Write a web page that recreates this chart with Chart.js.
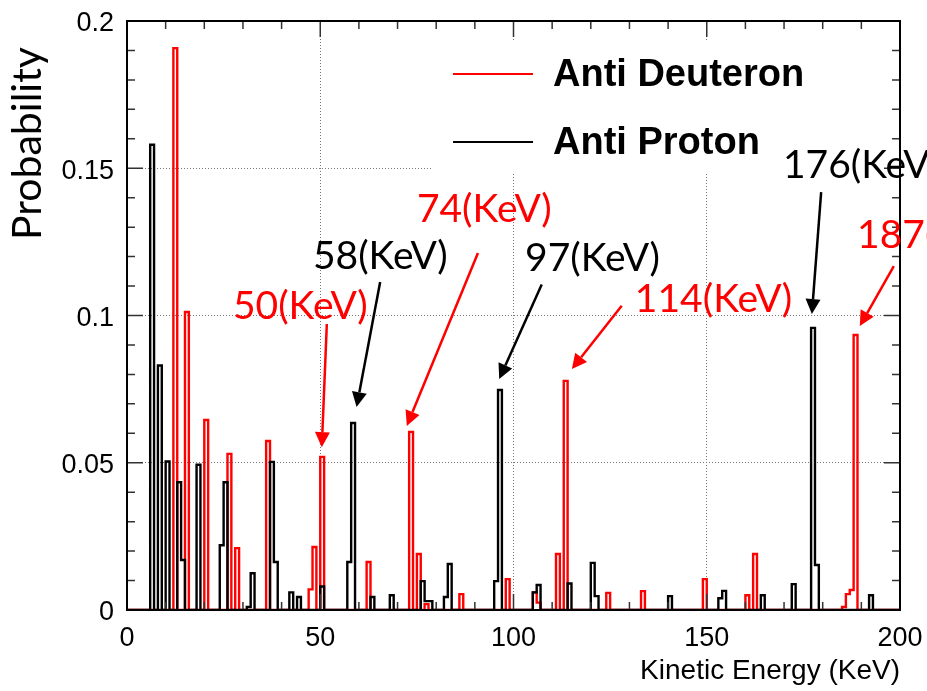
<!DOCTYPE html>
<html>
<head>
<meta charset="utf-8">
<title>Anti Deuteron / Anti Proton kinetic energy</title>
<script src="https://cdn.jsdelivr.net/npm/chart.js@4.4.0/dist/chart.umd.min.js"></script>
<style>
  html, body { margin: 0; padding: 0; background: #fff; }
  #wrap { width: 927px; height: 691px; }
</style>
</head>
<body>
<div id="wrap"><canvas id="spectrum" width="927" height="691"></canvas></div>
<script>
// histogram bins (lower edge, 1 KeV wide) and their probabilities
const deuteronBins = [12, 15, 20, 26, 28, 36, 47, 48, 50, 62, 73, 75, 77, 86, 98, 105, 106, 111, 113, 124, 133, 149, 160, 162, 185, 186, 187, 188];
const deuteronValues = [0.1908, 0.1012, 0.0645, 0.053, 0.021, 0.0574, 0.007, 0.0214, 0.052, 0.0163, 0.0605, 0.019, 0.002, 0.0054, 0.0105, 0.006, 0.0025, 0.019, 0.0778, 0.0058, 0.0064, 0.0105, 0.005, 0.019, 0.001, 0.0054, 0.0068, 0.0934];

const protonBins = [6, 8, 10, 13, 14, 18, 24, 25, 31, 32, 37, 38, 42, 44, 50, 57, 58, 63, 68, 76, 77, 78, 82, 83, 95, 96, 105, 106, 114, 120, 121, 140, 153, 154, 164, 172, 177, 178, 192];
const protonValues = [0.158, 0.083, 0.0504, 0.0434, 0.017, 0.0493, 0.022, 0.0434, 0.001, 0.0125, 0.0503, 0.0163, 0.006, 0.0044, 0.008, 0.0163, 0.0635, 0.0044, 0.005, 0.0098, 0.003, 0.003, 0.0044, 0.0156, 0.0098, 0.0747, 0.006, 0.0085, 0.009, 0.016, 0.0047, 0.0047, 0.004, 0.0065, 0.005, 0.0088, 0.0958, 0.0153, 0.005];

const xTickValues = [0, 50, 100, 150, 200];
const xTickLabels = ['0', '50', '100', '150', '200'];
const yTickValues = [0, 0.05, 0.1, 0.15, 0.2];
const yTickLabels = ['0', '0.05', '0.1', '0.15', '0.2'];

const xTitle = 'Kinetic Energy (KeV)';
const yTitle = 'Probability';

// peak call-outs: text and which series it belongs to
const peakLabels = ['50(KeV)', '58(KeV)', '74(KeV)', '97(KeV)', '114(KeV)', '176(KeV)', '187(KeV)'];
const peakSeries = ['d', 'p', 'd', 'p', 'd', 'p', 'd'];
// where they sit, in data units: [text x, text y, arrow from x, from y, arrow tip x, tip y]
const peakPlace = [
  [27.4, 0.0988, 51.7, 0.0971, 50.4, 0.0553],
  [48.1, 0.1158, 65.5, 0.1114, 59.4, 0.0689],
  [75.0, 0.1317, 90.8, 0.1212, 72.4, 0.0625],
  [103.0, 0.1151, 107.3, 0.1105, 96.3, 0.0784],
  [131.4, 0.1012, 128.0, 0.1033, 115.1, 0.0818],
  [169.7, 0.1467, 179.6, 0.1419, 177.2, 0.1005],
  [188.9, 0.1229, 198.4, 0.1168, 189.6, 0.0964]
];

const RED = '#ff0000';
const BLACK = '#000000';

// turn the sparse bins into a step outline over 0..200
function histogram(bins, values) {
  const pts = [];
  for (let e = 0; e <= 200; e++) {
    const k = bins.indexOf(e);
    pts.push({ x: e, y: k >= 0 ? values[k] : 0 });
  }
  return pts;
}

function arrow(ctx, x1, y1, x2, y2, color) {
  const ang = Math.atan2(y2 - y1, x2 - x1);
  const head = 15, half = 7.5;
  const bx = x2 - head * Math.cos(ang), by = y2 - head * Math.sin(ang);
  ctx.strokeStyle = color;
  ctx.fillStyle = color;
  ctx.lineWidth = 2.5;
  ctx.beginPath();
  ctx.moveTo(x1, y1);
  ctx.lineTo(bx, by);
  ctx.stroke();
  ctx.beginPath();
  ctx.moveTo(x2, y2);
  ctx.lineTo(bx + half * Math.sin(ang), by - half * Math.cos(ang));
  ctx.lineTo(bx - half * Math.sin(ang), by + half * Math.cos(ang));
  ctx.closePath();
  ctx.fill();
}

// ROOT-like frame: inward ticks on all four sides, legend box, call-outs
const rootLook = {
  id: 'rootLook',
  beforeDatasetsDraw(chart) {
    const { ctx, chartArea: a } = chart;
    ctx.save();
    ctx.fillStyle = '#fff';
    ctx.fillRect(a.left + 306, a.top + 20, a.right - a.left - 306, 131);
    ctx.restore();
  },
  afterDatasetsDraw(chart) {
    const { ctx, chartArea: a, scales: { x, y } } = chart;
    ctx.save();
    ctx.strokeStyle = '#333';
    ctx.lineWidth = 1.5;
    ctx.beginPath();
    for (let k = 0; k <= 20; k++) {
      const px = x.getPixelForValue(k * 10);
      const len = k % 5 === 0 ? 16 : 8;
      ctx.moveTo(px, a.bottom); ctx.lineTo(px, a.bottom - len);
      ctx.moveTo(px, a.top); ctx.lineTo(px, a.top + len);
    }
    for (let k = 0; k <= 20; k++) {
      const py = y.getPixelForValue(k * 0.01);
      const len = k % 5 === 0 ? 16 : 8;
      ctx.moveTo(a.left, py); ctx.lineTo(a.left + len, py);
      ctx.moveTo(a.right, py); ctx.lineTo(a.right - len, py);
    }
    ctx.stroke();

    ctx.strokeStyle = '#000';
    ctx.lineWidth = 2;
    ctx.strokeRect(a.left, a.top, a.right - a.left, a.bottom - a.top);

    // legend
    ctx.font = 'bold 38px "Liberation Sans", Arial, sans-serif';
    ctx.textBaseline = 'middle';
    ctx.textAlign = 'left';
    chart.data.datasets.forEach((ds, i) => {
      const ly = a.top + 53 + i * 68;
      ctx.strokeStyle = ds.borderColor;
      ctx.lineWidth = 2;
      ctx.beginPath();
      ctx.moveTo(a.left + 326, ly);
      ctx.lineTo(a.left + 406, ly);
      ctx.stroke();
      ctx.fillStyle = '#000';
      ctx.fillText(ds.label, a.left + 426, ly + 2);
    });
    ctx.restore();
  },
  afterDraw(chart) {
    const { ctx, scales: { x, y } } = chart;
    ctx.save();
    ctx.font = '39px Lato, "Open Sans", sans-serif';
    ctx.textBaseline = 'alphabetic';
    ctx.textAlign = 'left';
    peakLabels.forEach((txt, i) => {
      const p = peakPlace[i];
      const col = peakSeries[i] === 'd' ? RED : BLACK;
      ctx.fillStyle = col;
      ctx.fillText(txt, x.getPixelForValue(p[0]), y.getPixelForValue(p[1]));
      arrow(ctx, x.getPixelForValue(p[2]), y.getPixelForValue(p[3]),
        x.getPixelForValue(p[4]), y.getPixelForValue(p[5]), col);
    });

    // y axis title, top-aligned like ROOT
    ctx.translate(41, 47);
    ctx.rotate(-Math.PI / 2);
    ctx.textAlign = 'right';
    ctx.textBaseline = 'alphabetic';
    ctx.fillStyle = '#000';
    ctx.font = '41px Lato, "Open Sans", sans-serif';
    ctx.fillText(yTitle, 0, 0);
    ctx.restore();
  }
};

const tickFont = { family: '"Liberation Sans", Arial, sans-serif', size: 27 };

new Chart(document.getElementById('spectrum'), {
  type: 'line',
  data: {
    datasets: [{
      label: 'Anti Deuteron',
      data: histogram(deuteronBins, deuteronValues),
      borderColor: RED,
      borderWidth: 2.4,
      stepped: true,
      pointRadius: 0,
      fill: false,
      order: 1
    }, {
      label: 'Anti Proton',
      data: histogram(protonBins, protonValues),
      borderColor: BLACK,
      borderWidth: 2.4,
      stepped: true,
      pointRadius: 0,
      fill: false,
      order: 0
    }]
  },
  options: {
    responsive: false,
    animation: false,
    layout: { padding: { top: 21, right: 27, left: 0, bottom: 0 } },
    plugins: {
      legend: { display: false },
      tooltip: { enabled: false }
    },
    scales: {
      x: {
        type: 'linear',
        min: 0,
        max: 200,
        afterFit: s => { s.height = 81; s.paddingLeft = 0; s.paddingRight = 0; },
        afterBuildTicks: s => { s.ticks = xTickValues.map(v => ({ value: v })); },
        ticks: {
          callback: (v, i) => xTickLabels[i],
          font: tickFont,
          color: '#000',
          padding: 12,
          maxRotation: 0,
          autoSkip: false
        },
        grid: { color: '#777', lineWidth: 1, drawTicks: false },
        border: { display: false, dash: [1, 2] },
        title: {
          display: true,
          text: xTitle,
          align: 'end',
          color: '#000',
          font: { family: '"Liberation Sans", Arial, sans-serif', size: 28 },
          padding: { top: 0, bottom: 3 }
        }
      },
      y: {
        min: 0,
        max: 0.2,
        afterFit: s => { s.width = 127; s.paddingTop = 0; s.paddingBottom = 0; },
        afterBuildTicks: s => { s.ticks = yTickValues.map(v => ({ value: v })); },
        ticks: {
          callback: (v, i) => yTickLabels[i],
          font: tickFont,
          color: '#000',
          padding: 13,
          labelOffset: 3,
          autoSkip: false
        },
        grid: { color: '#777', lineWidth: 1, drawTicks: false },
        border: { display: false, dash: [1, 2] }
      }
    }
  },
  plugins: [rootLook]
});
</script>
</body>
</html>
